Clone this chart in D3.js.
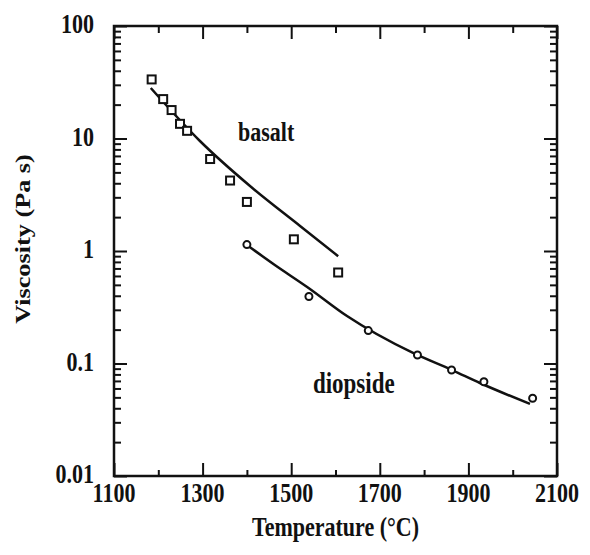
<!DOCTYPE html>
<html>
<head>
<meta charset="utf-8">
<script src="https://cdn.jsdelivr.net/npm/d3@7"></script>
<style>
  body { margin: 0; background: #fff; }
  svg text { font-family: "Liberation Serif", "Times New Roman", serif; font-weight: bold; fill: #111; }
</style>
</head>
<body>
<div id="viz"></div>
<script>
// measured points (deg C, Pa s)
var basaltT = [1185, 1211, 1230, 1249, 1265, 1317, 1362, 1400, 1506, 1606];
var basaltV = [33.5, 22.4, 17.9, 13.5, 11.7, 6.57, 4.23, 2.73, 1.27, 0.644];
var diopsideT = [1400, 1540, 1674, 1785, 1862, 1935, 2045];
var diopsideV = [1.14, 0.394, 0.196, 0.119, 0.0875, 0.0689, 0.0491];

// fitted curves
var basaltFitT = [1183, 1294, 1407, 1520, 1606];
var basaltFitV = [28.1, 9.5, 3.78, 1.67, 0.90];
var diopsideFitT = [1400, 1463, 1536, 1626, 1775, 1863, 1926, 2039];
var diopsideFitV = [1.13, 0.751, 0.479, 0.264, 0.124, 0.0875, 0.0671, 0.0437];

var xTicks = [1100, 1300, 1500, 1700, 1900, 2100];
var xMinorTicks = [1200, 1400, 1600, 1800, 2000];
var yTicks = [0.01, 0.1, 1, 10, 100];
var yTickLabels = ['0.01', '0.1', '1', '10', '100'];

var w = 590,
	h = 555,
	margin = {top: 26, right: 33, bottom: 79, left: 114},
	innerW = w - margin.left - margin.right,
	innerH = h - margin.top - margin.bottom,
	stretch = 'scale(1,1.25)';

var svg = d3.select('#viz')
	.append('svg')
	.attr('width', w)
	.attr('height', h);

var g = svg.append('g')
	.attr('transform', 'translate(' + margin.left + ',' + margin.top + ')');

var x = d3.scaleLinear().domain([1100, 2100]).range([0, innerW]);
var y = d3.scaleLog().domain([0.01, 100]).range([innerH, 0]);

var yMinor = y.ticks().filter(function (d) {
	return Math.abs(Math.log10(d) - Math.round(Math.log10(d))) > 1e-6;
});

function styleAxis(sel) {
	sel.select('.domain').remove();
	sel.selectAll('line').attr('stroke', '#111').attr('stroke-width', 2);
}

// major + minor ticks on all four sides, pointing inward
g.append('g').attr('transform', 'translate(0,' + innerH + ')')
	.call(d3.axisBottom(x).tickValues(xTicks).tickSize(-13).tickFormat(''))
	.call(styleAxis);
g.append('g').attr('transform', 'translate(0,' + innerH + ')')
	.call(d3.axisBottom(x).tickValues(xMinorTicks).tickSize(-6).tickFormat(''))
	.call(styleAxis);
g.append('g')
	.call(d3.axisTop(x).tickValues(xTicks).tickSize(-13).tickFormat(''))
	.call(styleAxis);
g.append('g')
	.call(d3.axisTop(x).tickValues(xMinorTicks).tickSize(-7).tickFormat(''))
	.call(styleAxis);
g.append('g')
	.call(d3.axisLeft(y).tickValues(yTicks).tickSize(-13).tickFormat(''))
	.call(styleAxis);
g.append('g')
	.call(d3.axisLeft(y).tickValues(yMinor).tickSize(-7).tickFormat(''))
	.call(styleAxis);
g.append('g').attr('transform', 'translate(' + innerW + ',0)')
	.call(d3.axisRight(y).tickValues(yTicks).tickSize(-13).tickFormat(''))
	.call(styleAxis);
g.append('g').attr('transform', 'translate(' + innerW + ',0)')
	.call(d3.axisRight(y).tickValues(yMinor).tickSize(-7).tickFormat(''))
	.call(styleAxis);

// tick labels
g.append('g').selectAll('text')
	.data(xTicks)
	.enter().append('text')
	.attr('text-anchor', 'middle')
	.attr('font-size', 22)
	.attr('transform', function (d) {
		return 'translate(' + x(d) + ',' + (innerH + 26) + ')' + stretch;
	})
	.text(String);

g.append('g').selectAll('text')
	.data(yTicks)
	.enter().append('text')
	.attr('text-anchor', 'end')
	.attr('font-size', 22)
	.attr('transform', function (d) {
		return 'translate(-20,' + (y(d) + 7) + ')' + stretch;
	})
	.text(function (d, i) { return yTickLabels[i]; });

// frame
g.append('rect')
	.attr('width', innerW)
	.attr('height', innerH)
	.attr('fill', 'none')
	.attr('stroke', '#111')
	.attr('stroke-width', 2.5);

// fit curves
var line = d3.line()
	.x(function (d) { return x(d[0]); })
	.y(function (d) { return y(d[1]); })
	.curve(d3.curveMonotoneX);

g.append('path')
	.datum(d3.zip(basaltFitT, basaltFitV))
	.attr('d', line)
	.attr('fill', 'none')
	.attr('stroke', '#111')
	.attr('stroke-width', 2.5);

g.append('path')
	.datum(d3.zip(diopsideFitT, diopsideFitV))
	.attr('d', line)
	.attr('fill', 'none')
	.attr('stroke', '#111')
	.attr('stroke-width', 2.5);

// markers
var sq = 8;
g.append('g').selectAll('rect')
	.data(d3.zip(basaltT, basaltV))
	.enter().append('rect')
	.attr('x', function (d) { return x(d[0]) - sq / 2; })
	.attr('y', function (d) { return y(d[1]) - sq / 2; })
	.attr('width', sq)
	.attr('height', sq)
	.attr('fill', '#fff')
	.attr('stroke', '#111')
	.attr('stroke-width', 2);

g.append('g').selectAll('circle')
	.data(d3.zip(diopsideT, diopsideV))
	.enter().append('circle')
	.attr('cx', function (d) { return x(d[0]); })
	.attr('cy', function (d) { return y(d[1]); })
	.attr('r', 3.5)
	.attr('fill', '#fff')
	.attr('stroke', '#111')
	.attr('stroke-width', 2);

// series labels
g.append('text')
	.attr('font-size', 22)
	.attr('transform', 'translate(' + x(1380) + ',' + y(9.5) + ')' + stretch)
	.text('basalt');

g.append('text')
	.attr('font-size', 23)
	.attr('transform', 'translate(' + x(1549) + ',' + y(0.0547) + ')' + stretch)
	.text('diopside');

// axis titles
svg.append('text')
	.attr('text-anchor', 'middle')
	.attr('font-size', 22)
	.attr('transform', 'translate(' + (margin.left + innerW / 2) + ',' + (h - 19) + ')' + stretch)
	.text('Temperature (°C)');

svg.append('text')
	.attr('text-anchor', 'middle')
	.attr('font-size', 21)
	.attr('transform', 'translate(30,' + (margin.top + innerH / 2 - 12) + ') rotate(-90) scale(1.25,1)')
	.text('Viscosity (Pa s)');
</script>
</body>
</html>
